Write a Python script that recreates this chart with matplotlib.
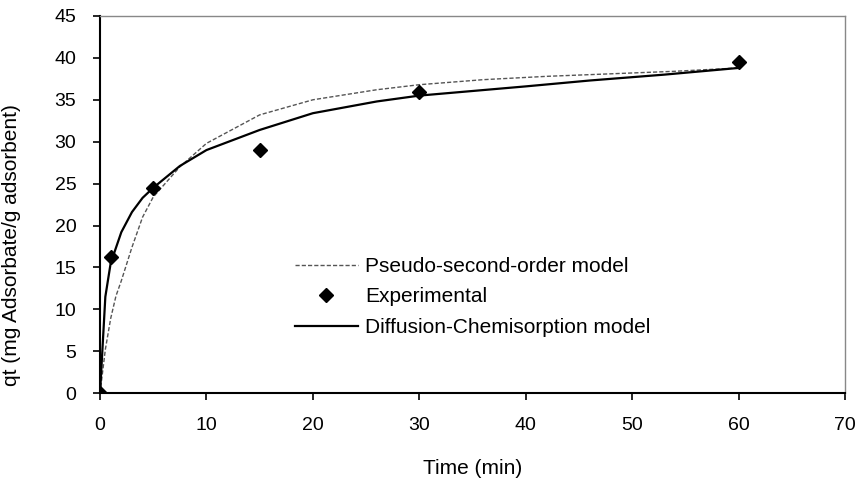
import matplotlib.pyplot as plt

plt.rcParams['font.family'] = ['Liberation Sans', 'DejaVu Sans']

# Experimental data
t_exp = [0, 1, 5, 15, 30, 60]
q_exp = [0, 16.3, 24.5, 29.0, 35.9, 39.5]

# Pseudo-second-order model
t_pso = [0, 0.5, 1, 1.5, 2, 3, 4, 5, 7.5, 10, 15, 20, 26, 30, 36, 42, 48, 54, 60]
q_pso = [0, 5.2, 8.9, 11.6, 13.4, 17.4, 21.0, 23.4, 27.0, 29.8, 33.2, 35.0, 36.2,
         36.8, 37.4, 37.8, 38.1, 38.4, 38.8]

# Diffusion-Chemisorption model
t_dc = [0, 0.5, 1, 2, 3, 4, 5, 7.5, 10, 15, 20, 26, 30, 40, 46, 53, 60]
q_dc = [0, 11.5, 15.5, 19.2, 21.6, 23.3, 24.5, 27.1, 29.0, 31.4, 33.4, 34.8,
        35.5, 36.6, 37.3, 38.0, 38.8]

fig = plt.figure(figsize=(8.6, 4.8), dpi=100)
ax = fig.add_axes([0.1163, 0.181, 0.8663, 0.7857])

ax.plot(t_pso, q_pso, color='#555555', lw=1.0, ls=(0, (3, 1.5)),
        label='Pseudo-second-order model')
ax.plot(t_exp, q_exp, ls='none', marker='D', ms=7, color='black',
        label='Experimental')
ax.plot(t_dc, q_dc, color='black', lw=1.6,
        label='Diffusion-Chemisorption model')

ax.set_xlim(0, 70)
ax.set_ylim(0, 45)
ax.set_xticks(range(0, 71, 10))
ax.set_yticks(range(0, 46, 5))
ax.tick_params(direction='out', length=5, width=1.2, labelsize=14)
ax.tick_params(axis='y', pad=12)
ax.tick_params(axis='x', pad=12)

for side in ['left', 'bottom']:
    ax.spines[side].set_linewidth(1.5)
for side in ['top', 'right']:
    ax.spines[side].set_color('#888888')
    ax.spines[side].set_linewidth(1.0)

ax.set_xlabel('Time (min)', fontsize=15, labelpad=18)
ax.set_ylabel('qt (mg Adsorbate/g adsorbent)', fontsize=15)
ax.yaxis.set_label_coords(-0.106, 0.393)

ax.legend(loc='center left', bbox_to_anchor=(0.262, 0.255), frameon=False,
          fontsize=15, handlelength=3.0, handletextpad=0.35,
          labelspacing=0.55, borderpad=0, borderaxespad=0)

fig.savefig('out.png', dpi=100)
